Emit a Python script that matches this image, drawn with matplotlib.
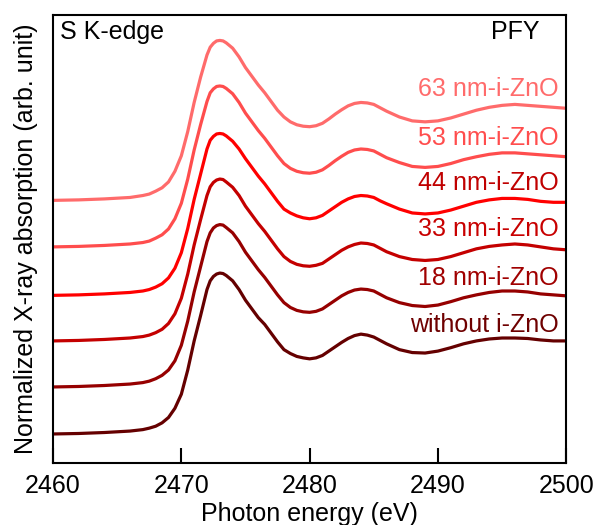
import numpy as np
import matplotlib
matplotlib.use("Agg")
import matplotlib.pyplot as plt

plt.rcParams['font.family'] = ['Liberation Sans', 'DejaVu Sans']

# photon energy grid (eV)
energy = [2460, 2462, 2464, 2466, 2467, 2467.5, 2468, 2468.5, 2469, 2469.5,
          2470, 2470.5, 2471, 2471.5, 2472, 2472.25, 2472.5, 2472.75, 2473, 2473.25,
          2473.5, 2474, 2474.5, 2475, 2475.5, 2476, 2476.5, 2477, 2477.5, 2478,
          2478.5, 2479, 2479.5, 2480, 2480.5, 2481, 2481.5, 2482, 2482.5, 2483,
          2483.5, 2484, 2484.5, 2485, 2485.5, 2486, 2487, 2488, 2489, 2490,
          2491, 2492, 2493, 2494, 2495, 2496, 2497, 2498, 2499, 2500]

# normalized absorption (without stacking offset)
without = [0.00, 0.005, 0.015, 0.03, 0.045, 0.06, 0.08, 0.115, 0.17, 0.265,
           0.41, 0.66, 0.96, 1.22, 1.49, 1.58, 1.625, 1.65, 1.66, 1.655,
           1.635, 1.58, 1.49, 1.38, 1.29, 1.20, 1.13, 1.04, 0.95, 0.87,
           0.83, 0.80, 0.785, 0.775, 0.785, 0.81, 0.855, 0.90, 0.945, 0.985,
           1.015, 1.03, 1.02, 1.00, 0.965, 0.93, 0.87, 0.84, 0.835, 0.855,
           0.89, 0.93, 0.96, 0.98, 0.99, 0.99, 0.985, 0.97, 0.96, 0.96]
nm18 = [0.00, 0.005, 0.015, 0.03, 0.045, 0.06, 0.085, 0.12, 0.175, 0.27,
        0.43, 0.68, 0.98, 1.24, 1.50, 1.59, 1.64, 1.665, 1.675, 1.67,
        1.645, 1.59, 1.50, 1.39, 1.30, 1.21, 1.13, 1.04, 0.95, 0.87,
        0.82, 0.79, 0.775, 0.77, 0.78, 0.805, 0.85, 0.895, 0.94, 0.975,
        1.00, 1.01, 1.005, 0.99, 0.955, 0.92, 0.87, 0.84, 0.83, 0.845,
        0.88, 0.92, 0.95, 0.975, 0.99, 0.99, 0.98, 0.96, 0.95, 0.94]
nm33 = [0.00, 0.005, 0.015, 0.03, 0.045, 0.06, 0.085, 0.12, 0.18, 0.28,
        0.44, 0.69, 0.99, 1.25, 1.50, 1.59, 1.635, 1.66, 1.67, 1.665,
        1.64, 1.585, 1.50, 1.39, 1.30, 1.21, 1.13, 1.04, 0.95, 0.87,
        0.82, 0.79, 0.775, 0.77, 0.78, 0.80, 0.845, 0.89, 0.935, 0.97,
        0.995, 1.01, 1.005, 0.99, 0.955, 0.92, 0.87, 0.84, 0.83, 0.84,
        0.87, 0.91, 0.95, 0.975, 0.99, 1.00, 0.99, 0.97, 0.95, 0.94]
nm44 = [0.00, 0.005, 0.015, 0.03, 0.045, 0.06, 0.085, 0.12, 0.18, 0.28,
        0.44, 0.69, 0.99, 1.25, 1.51, 1.60, 1.64, 1.665, 1.67, 1.665,
        1.645, 1.59, 1.51, 1.41, 1.32, 1.23, 1.15, 1.06, 0.97, 0.89,
        0.85, 0.82, 0.80, 0.79, 0.80, 0.825, 0.87, 0.915, 0.96, 0.995,
        1.02, 1.03, 1.025, 1.01, 0.975, 0.945, 0.89, 0.85, 0.84, 0.85,
        0.88, 0.92, 0.96, 0.985, 1.00, 1.00, 0.99, 0.97, 0.96, 0.96]
nm53 = [0.00, 0.005, 0.015, 0.03, 0.045, 0.06, 0.09, 0.125, 0.185, 0.29,
        0.45, 0.70, 1.00, 1.26, 1.50, 1.59, 1.63, 1.655, 1.66, 1.655,
        1.635, 1.58, 1.49, 1.38, 1.29, 1.20, 1.12, 1.03, 0.94, 0.86,
        0.81, 0.78, 0.765, 0.76, 0.77, 0.795, 0.84, 0.89, 0.935, 0.975,
        1.00, 1.01, 1.005, 0.99, 0.955, 0.92, 0.87, 0.83, 0.82, 0.83,
        0.86, 0.90, 0.93, 0.955, 0.97, 0.97, 0.96, 0.95, 0.94, 0.93]
nm63 = [0.00, 0.005, 0.015, 0.03, 0.05, 0.065, 0.095, 0.13, 0.19, 0.30,
        0.46, 0.71, 1.01, 1.27, 1.50, 1.58, 1.62, 1.645, 1.65, 1.645,
        1.625, 1.57, 1.48, 1.37, 1.28, 1.19, 1.11, 1.02, 0.93, 0.86,
        0.81, 0.78, 0.765, 0.76, 0.77, 0.795, 0.84, 0.89, 0.935, 0.975,
        1.00, 1.01, 1.005, 0.99, 0.955, 0.92, 0.86, 0.82, 0.81, 0.82,
        0.85, 0.89, 0.93, 0.96, 0.98, 0.99, 0.98, 0.97, 0.96, 0.95]

series = [without, nm18, nm33, nm44, nm53, nm63]
labels = ['without i-ZnO', '18 nm-i-ZnO', '33 nm-i-ZnO', '44 nm-i-ZnO',
          '53 nm-i-ZnO', '63 nm-i-ZnO']
offsets = [0.0, 0.485, 0.96, 1.43, 1.93, 2.41]
label_y = [1.12, 1.61, 2.11, 2.59, 3.05, 3.56]
line_colors = ['#650000', '#960000', '#c40000', '#ff0000', '#ff4d4d', '#ff6b6b']
text_colors = ['#6e0000', '#a00000', '#c80000', '#c00000', '#ff4d4d', '#ff6b6b']

fig = plt.figure(figsize=(5.96, 5.25), dpi=100)
ax = fig.add_axes([0.089, 0.118, 0.861, 0.853])

e = np.array(energy)
for vals, off, col in zip(series, offsets, line_colors):
    ax.plot(e, np.array(vals) + off, color=col, lw=2.3,
            solid_joinstyle='round', solid_capstyle='round')

for lab, ly, col in zip(labels, label_y, text_colors):
    ax.text(2499.4, ly, lab, color=col, fontsize=18, ha='right', va='center')

ax.text(0.014, 0.962, 'S K-edge', transform=ax.transAxes, fontsize=18,
        ha='left', va='center')
ax.text(0.947, 0.962, 'PFY', transform=ax.transAxes, fontsize=18,
        ha='right', va='center')

ax.set_xlim(2460, 2500)
ax.set_ylim(-0.30, 4.32)
ax.set_xticks([2460, 2470, 2480, 2490, 2500])
ax.set_yticks([])
ax.tick_params(axis='x', direction='in', length=11, width=1.5, labelsize=18, pad=8)
for s in ax.spines.values():
    s.set_linewidth(1.5)

ax.set_xlabel('Photon energy (eV)', fontsize=18, labelpad=3)
ax.set_ylabel('Normalized X-ray absorption (arb. unit)', fontsize=18, labelpad=11)

fig.savefig('out.png', dpi=100)
